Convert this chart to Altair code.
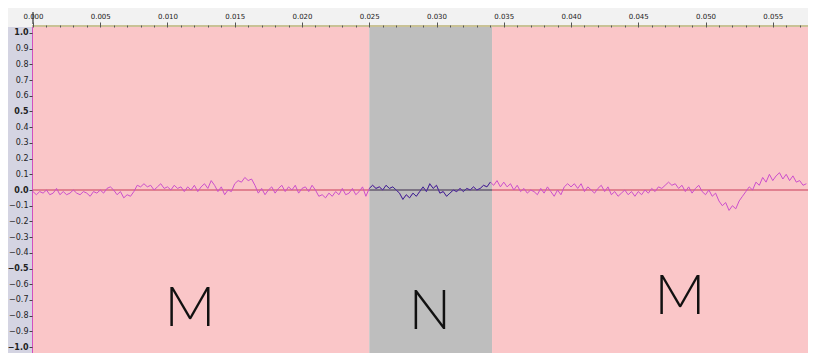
import altair as alt
import pandas as pd

# waveform amplitude, one sample every 0.00025 s
wave = [
    -0.01, -0.03, -0.01, -0.02, 0.00, -0.03, -0.02, 0.01, -0.03, -0.01, -0.03, -0.02, 0.00, -0.02, -0.03, -0.01, -0.02, -0.04, -0.01, -0.02,
    0.00, -0.02, 0.01, 0.02, 0.00, -0.03, -0.01, -0.05, -0.03, -0.04, -0.01, 0.03, 0.02, 0.04, 0.02, 0.03, 0.00, 0.02, 0.04, 0.01,
    0.02, 0.00, 0.03, 0.01, 0.02, -0.01, 0.02, 0.00, 0.03, -0.01, 0.02, 0.04, 0.01, 0.06, 0.03, -0.01, 0.02, -0.03, 0.00, -0.01,
    0.04, 0.06, 0.05, 0.08, 0.06, 0.07, 0.03, -0.02, 0.01, -0.03, 0.00, 0.02, -0.02, 0.01, 0.03, -0.01, 0.02, 0.00, 0.03, -0.02,
    0.01, 0.02, -0.01, 0.03, 0.00, -0.04, -0.03, -0.05, -0.02, -0.04, -0.01, -0.03, 0.01, -0.03, -0.02, 0.01, -0.03, -0.01, 0.02, -0.04,
    0.01, 0.03, 0.01, 0.02, 0.00, 0.03, 0.01, 0.02, 0.00, -0.02, -0.06, -0.03, -0.05, -0.02, -0.04, -0.01, 0.02, -0.01, 0.04, 0.01,
    0.03, -0.02, -0.01, -0.04, -0.02, 0.00, -0.01, 0.01, -0.01, 0.01, 0.00, 0.02, 0.00, 0.01, 0.03, 0.02, 0.05, 0.03, 0.06, 0.02,
    0.05, 0.02, 0.04, 0.00, 0.03, -0.01, 0.01, -0.02, 0.00, -0.01, -0.03, 0.01, -0.02, 0.02, -0.01, -0.04, 0.00, -0.03, 0.02, 0.04,
    0.02, 0.04, 0.01, 0.04, -0.01, 0.02, 0.00, -0.02, 0.01, 0.03, -0.01, 0.02, -0.03, -0.01, -0.04, -0.02, 0.00, -0.03, -0.01, -0.04,
    -0.01, -0.03, 0.00, -0.02, 0.01, -0.01, 0.02, 0.01, 0.03, 0.05, 0.03, 0.04, 0.01, 0.03, -0.01, 0.02, -0.02, 0.01, 0.03, -0.01,
    -0.03, 0.00, -0.04, -0.02, -0.07, -0.10, -0.08, -0.13, -0.10, -0.12, -0.07, -0.04, -0.01, 0.02, 0.00, 0.05, 0.03, 0.08, 0.05, 0.10,
    0.06, 0.09, 0.11, 0.07, 0.10, 0.06, 0.09, 0.05, 0.06, 0.03, 0.04, 0.01, 0.03, 0.02,
]
sample_step = 0.00025

W, H = 776, 326
XDOM = [-0.000074, 0.05762]
YDOM = [-1.0382, 1.0382]

region_labels = ["M", "N", "M"]
region_start = [-0.000074, 0.025, 0.03413]
region_end = [0.025, 0.03413, 0.05762]
region_colors = ["#fac6c8", "#bebebe", "#fac6c8"]
letter_x = [0.01167, 0.0295, 0.0481]
letter_y = [-0.76, -0.78, -0.68]

x_ticks = [round(i * 0.001, 3) for i in range(0, 58)]
y_ticks = [-1.0, -0.9, -0.8, -0.7, -0.6, -0.5, -0.4, -0.3, -0.2, -0.1, 0.0,
           0.1, 0.2, 0.3, 0.4, 0.5, 0.6, 0.7, 0.8, 0.9, 1.0]

wave_df = pd.DataFrame({"t": [round(i * sample_step, 5) for i in range(len(wave))], "a": wave})
wave_df = wave_df[wave_df["t"] <= XDOM[1]]
reg_df = pd.DataFrame({"label": region_labels, "x0": region_start, "x1": region_end,
                       "color": region_colors, "lx": letter_x, "ly": letter_y})

xs = alt.Scale(domain=XDOM, nice=False, zero=False)
ys = alt.Scale(domain=YDOM, nice=False, zero=False)

xaxis = alt.Axis(
    orient="top", values=x_ticks, title=None, grid=False, domain=False, zindex=2,
    labelExpr="round(datum.value*1000) % 5 == 0 ? format(datum.value, '.3f') : ''",
    labelFont="DejaVu Sans", labelFontSize=7, labelColor="#222222",
    tickColor="#555555",
    tickSize={"condition": {"test": "round(datum.value*1000) % 5 == 0", "value": 5}, "value": 2},
    labelPadding=3, labelFlush=False, labelOverlap=False,
)
yaxis = alt.Axis(
    orient="left", values=y_ticks, title=None, grid=False, domain=False, format=".1f", zindex=2,
    labelFont="DejaVu Sans", labelFontSize=8, labelColor="#222222",
    labelFontWeight={"condition": {"test": "abs(datum.value*2 - round(datum.value*2)) < 0.001", "value": "bold"}, "value": "normal"},
    tickColor="#444444", tickSize=3, labelPadding=1, labelFlush=False, labelOverlap=False,
)

one = reg_df.head(1)

ruler_bg = alt.Chart(one).mark_rect(color="#f2f2f2").encode(
    x=alt.value(-24), x2=alt.value(W), y=alt.value(-19), y2=alt.value(0))
left_bg = alt.Chart(one).mark_rect(color="#d4d4e2").encode(
    x=alt.value(-24), x2=alt.value(0), y=alt.value(0), y2=alt.value(H))

regions = alt.Chart(reg_df).mark_rect().encode(
    x=alt.X("x0:Q", scale=xs, axis=xaxis),
    x2="x1:Q",
    y=alt.value(0), y2=alt.value(H),
    color=alt.Color("color:N", scale=None),
)

olive = alt.Chart(one).mark_rule(color="#c9c296", strokeWidth=2).encode(
    x=alt.value(0), x2=alt.value(W), y=alt.value(-1))
leftline = alt.Chart(one).mark_rule(color="#d050c0", strokeWidth=1).encode(
    x=alt.value(0.5), y=alt.value(0), y2=alt.value(H))
cursor = alt.Chart(one).mark_rule(color="#111111", strokeWidth=1).encode(
    x=alt.value(1), y=alt.value(-15), y2=alt.value(-3))

zero_pink = alt.Chart(reg_df).transform_calculate(z="0").transform_filter(
    "datum.label == 'M'").mark_rule(color="#c83c5a", strokeWidth=1).encode(
    x=alt.X("x0:Q", scale=xs, axis=xaxis), x2="x1:Q", y=alt.Y("z:Q", scale=ys, axis=yaxis))
zero_gray = alt.Chart(reg_df).transform_calculate(z="0").transform_filter(
    "datum.label == 'N'").mark_rule(color="#3a2a4a", strokeWidth=1).encode(
    x=alt.X("x0:Q", scale=xs, axis=xaxis), x2="x1:Q", y=alt.Y("z:Q", scale=ys, axis=yaxis))

line_m = alt.Chart(wave_df).mark_line(color="#cc4fcc", strokeWidth=1).encode(
    x=alt.X("t:Q", scale=xs, axis=xaxis), y=alt.Y("a:Q", scale=ys, axis=yaxis))
line_n = alt.Chart(wave_df).transform_filter(
    "datum.t >= 0.025 && datum.t <= 0.03413").mark_line(color="#34348c", strokeWidth=1).encode(
    x=alt.X("t:Q", scale=xs, axis=xaxis), y=alt.Y("a:Q", scale=ys, axis=yaxis))

letters = alt.Chart(reg_df).mark_text(
    font="Lato", fontWeight=300, fontSize=56, color="#111111", baseline="middle", align="center"
).encode(x=alt.X("lx:Q", scale=xs, axis=xaxis), y=alt.Y("ly:Q", scale=ys, axis=yaxis), text="label:N")

chart = alt.layer(
    ruler_bg, left_bg, regions, olive, zero_pink, zero_gray, line_m, line_n, leftline, cursor, letters
).properties(
    width=W, height=H,
    autosize=alt.AutoSizeParams(type="none"),
    padding={"left": 24, "top": 19, "right": 0, "bottom": 0},
    background="white",
).configure_view(stroke=None)

chart.save("out.html", embed_options={"renderer": "svg", "actions": False})
